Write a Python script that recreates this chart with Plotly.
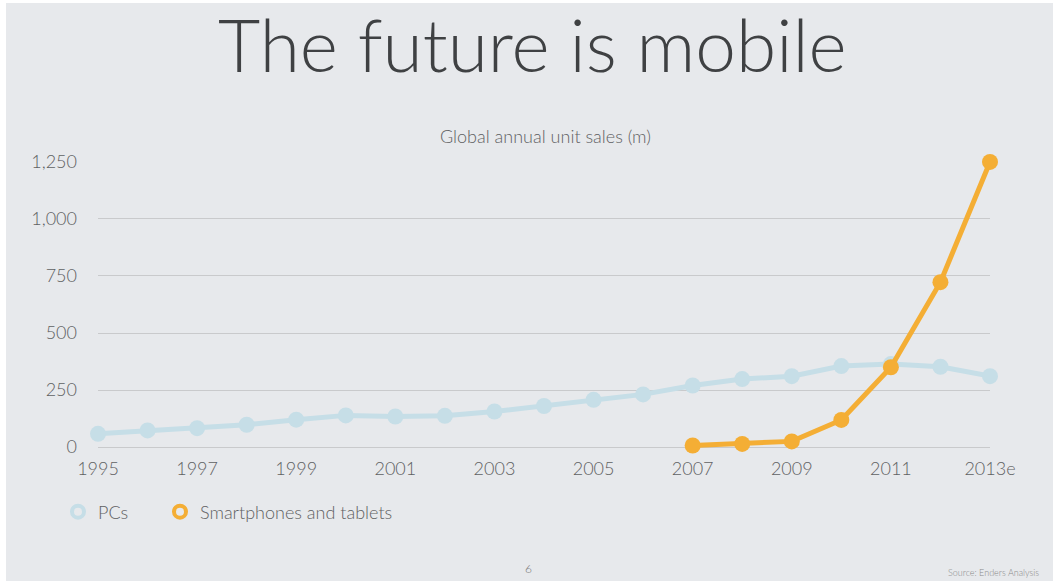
import plotly.graph_objects as go

# Global annual unit sales (millions)
years = list(range(1995, 2014))
pc_sales = [58, 73, 83, 98, 120, 139, 134, 137, 156, 180, 207, 231, 270, 298, 311, 355, 364, 352, 311]
mobile_years = list(range(2007, 2014))
mobile_sales = [7, 14, 25, 119, 350, 723, 1250]

tick_years = [1995, 1997, 1999, 2001, 2003, 2005, 2007, 2009, 2011, 2013]
tick_text = ["1995", "1997", "1999", "2001", "2003", "2005", "2007", "2009", "2011", "2013e"]
y_ticks = [0, 250, 500, 750, 1000, 1250]
y_tick_text = ["0", "250", "500", "750", "1,000", "1,250"]

PC_COLOR = "#c6dee7"
MOBILE_COLOR = "#f4ae35"
TEXT_COLOR = "#5f6163"
GRID_COLOR = "#c9cacc"
FONT = "Lato"

# plot-area geometry in pixels
W, H = 1057, 583
L, R, T, B = 98, 67, 161, 135
PW, PH = W - L - R, H - T - B


def px(x):
    return (x - L) / PW


def py(y):
    return (H - B - y) / PH


fig = go.Figure()

fig.add_trace(go.Scatter(
    x=years, y=pc_sales, mode="lines+markers", name="PCs",
    line=dict(color=PC_COLOR, width=5),
    marker=dict(color=PC_COLOR, size=16),
    cliponaxis=False, showlegend=False,
))
fig.add_trace(go.Scatter(
    x=mobile_years, y=mobile_sales, mode="lines+markers", name="Smartphones and tablets",
    line=dict(color=MOBILE_COLOR, width=5),
    marker=dict(color=MOBILE_COLOR, size=16),
    cliponaxis=False, showlegend=False,
))

# legend entries shown as open rings, each in its own legend box
for name, color, leg in [("PCs", PC_COLOR, "legend"), ("Smartphones and tablets", MOBILE_COLOR, "legend2")]:
    fig.add_trace(go.Scatter(
        x=[None], y=[None], mode="markers", name=name, legend=leg,
        marker=dict(symbol="circle-open", color=color, size=12, line=dict(width=4, color=color)),
    ))

# slide background
fig.add_shape(
    type="rect", xref="paper", yref="paper",
    x0=px(6), x1=px(1053), y0=py(581), y1=py(3),
    fillcolor="#e7e9ec", line=dict(width=0), layer="below",
)

fig.add_annotation(
    text="The future is mobile", xref="paper", yref="paper",
    x=px(532), y=py(44), xanchor="center", yanchor="middle", showarrow=False,
    font=dict(family=FONT, size=73, color="#3f4143", weight=300),
)
fig.add_annotation(
    text="Global annual unit sales (m)", xref="paper", yref="paper",
    x=px(545), y=py(136), xanchor="center", yanchor="middle", showarrow=False,
    font=dict(family=FONT, size=18, color=TEXT_COLOR, weight=300),
)
fig.add_annotation(
    text="6", xref="paper", yref="paper",
    x=px(528), y=py(568), xanchor="center", yanchor="middle", showarrow=False,
    font=dict(family=FONT, size=12, color="#777777"),
)
fig.add_annotation(
    text="Source: Enders Analysis", xref="paper", yref="paper",
    x=px(1041), y=py(572), xanchor="right", yanchor="middle", showarrow=False,
    font=dict(family=FONT, size=9, color="#8a8a8a"),
)

legend_style = dict(
    orientation="h", xanchor="left", yanchor="middle", y=py(512),
    font=dict(family=FONT, size=18, color=TEXT_COLOR, weight=300),
    bgcolor="rgba(0,0,0,0)",
)

fig.update_layout(
    width=W, height=H,
    margin=dict(l=L, r=R, t=T, b=B, pad=0),
    paper_bgcolor="#ffffff",
    plot_bgcolor="rgba(0,0,0,0)",
    font=dict(family=FONT, color=TEXT_COLOR, weight=300),
    legend=dict(x=px(58), **legend_style),
    legend2=dict(x=px(160), **legend_style),
    xaxis=dict(
        range=[1995, 2013], tickmode="array", tickvals=tick_years, ticktext=tick_text,
        showgrid=False, zeroline=False, showline=False,
        tickfont=dict(family=FONT, size=18, color=TEXT_COLOR, weight=300),
        ticks="outside", ticklen=4, tickcolor="rgba(0,0,0,0)", fixedrange=True,
    ),
    yaxis=dict(
        range=[-4, 1254], tickmode="array", tickvals=y_ticks, ticktext=y_tick_text,
        showgrid=True, gridcolor=GRID_COLOR, gridwidth=1,
        zeroline=True, zerolinecolor=GRID_COLOR, zerolinewidth=1, showline=False,
        tickfont=dict(family=FONT, size=18, color=TEXT_COLOR, weight=300),
        ticks="", ticklabelstandoff=20, fixedrange=True,
    ),
)

fig.write_html("out.html")
